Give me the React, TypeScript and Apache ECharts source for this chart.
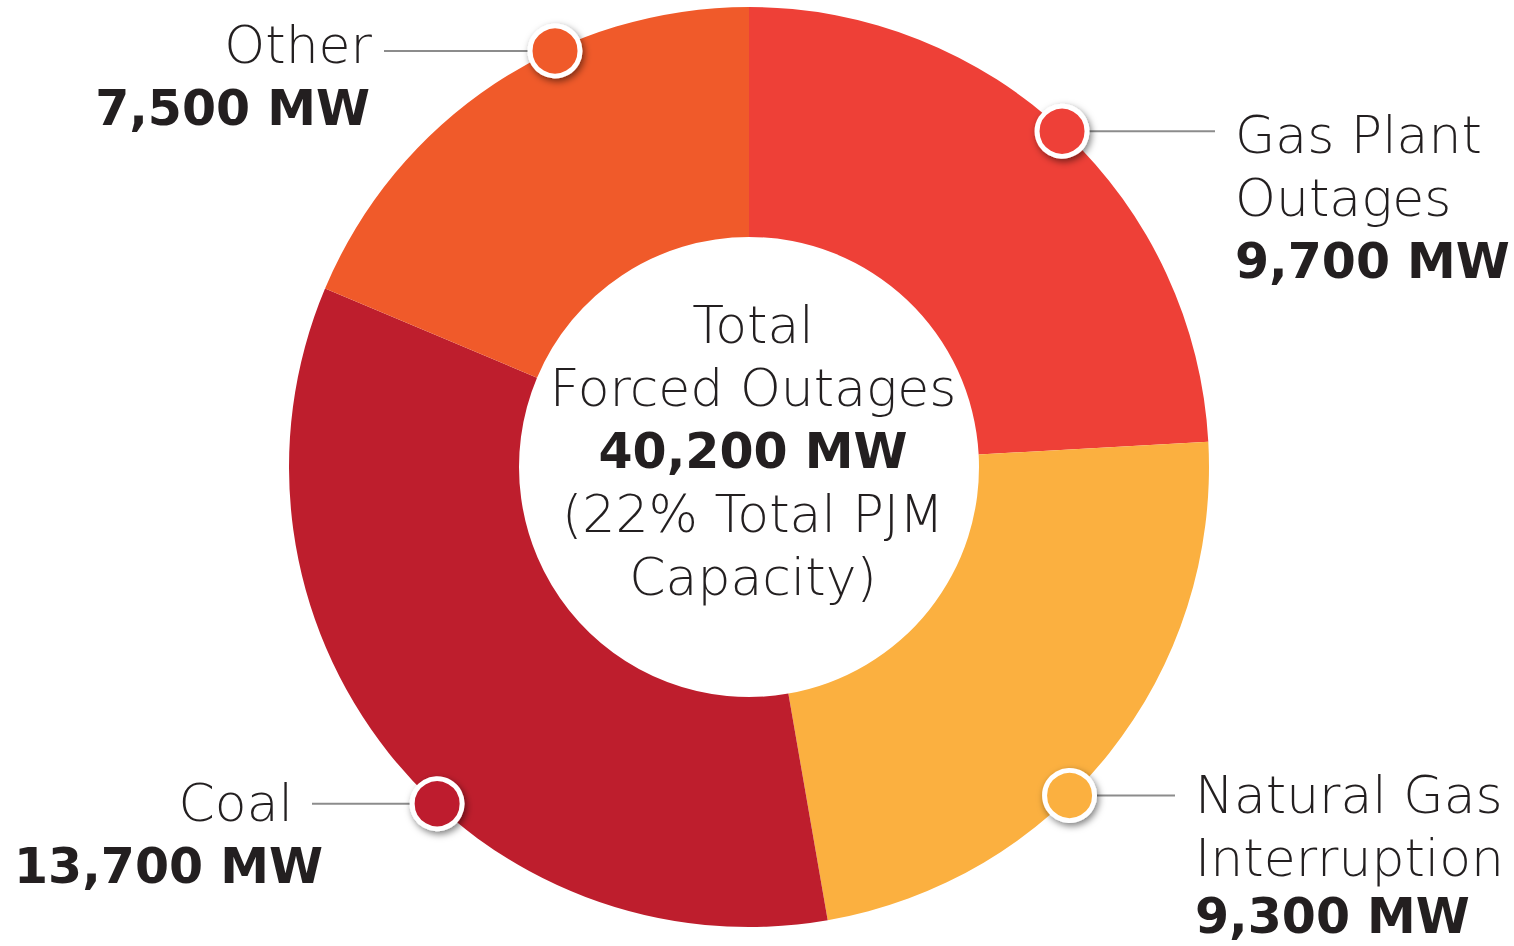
import React, { useEffect, useRef } from "react";
import * as echarts from "echarts";

const categories = ["Gas Plant Outages", "Natural Gas Interruption", "Coal", "Other"];
const labelLines = [["Gas Plant", "Outages"], ["Natural Gas", "Interruption"], ["Coal"], ["Other"]];
const valuesMW = [9700, 9300, 13700, 7500];
const colors = ["#EE4037", "#FBB040", "#BE1E2D", "#F05A2A"];
const centerLines = ["Total", "Forced Outages"];
const totalMW = 40200;
const centerTail = ["(22% Total PJM", "Capacity)"];
// marker angle (degrees, clockwise from 12 o'clock) where each callout touches the ring
const markerAngles = [43, 135.7, 222.8, 335];

const LIGHT = "'DejaVu Sans', sans-serif";
const BOLD = "'DejaVu Sans', sans-serif";
const INK = "#231F20";

const fmt = (v: number) => v.toLocaleString("en-US") + " MW";

export default function App() {
  const ref = useRef<HTMLDivElement>(null);
  useEffect(() => {
    if (!ref.current) return;
    const chart = echarts.init(ref.current, undefined, { renderer: "svg" });
    const cx = 749, cy = 467, rOut = 460, rIn = 230;
    const lh = 63;
    const graphics: any[] = [];
    const txt = (s: string, x: number, y: number, bold: boolean, align: string) => ({
      type: "text",
      x, y, z: 10,
      style: {
        text: s,
        font: bold ? `bold 49px ${BOLD}` : `200 52px ${LIGHT}`,
        fill: INK,
        align,
        verticalAlign: "middle",
      },
    });
    // center
    centerLines.forEach((s, i) => graphics.push(txt(s, 753, 325 + i * lh, false, "center")));
    graphics.push(txt(fmt(totalMW), 753, 325 + 2 * lh, true, "center"));
    centerTail.forEach((s, i) => graphics.push(txt(s, 753, 325 + (3 + i) * lh, false, "center")));

    // callouts: [labelX, lineEndX, align, firstLineY]
    const callout: [number, number, string, number][] = [
      [1235, 1215, "left", 135],
      [1195, 1175, "left", 795],
      [293, 312, "right", 803],
      [372, 384, "right", 45],
    ];
    categories.forEach((_, i) => {
      const a = (markerAngles[i] * Math.PI) / 180;
      const mx = cx + (rOut - 1) * Math.sin(a);
      const my = cy - (rOut - 1) * Math.cos(a);
      const [lx, ex, align, y0] = callout[i];
      graphics.push({
        type: "line", z: 5,
        shape: { x1: mx, y1: my, x2: ex, y2: my },
        style: { stroke: "#8c8c8c", lineWidth: 2 },
      });
      graphics.push({
        type: "circle", z: 6,
        shape: { cx: mx, cy: my, r: 25 },
        style: {
          fill: colors[i], stroke: "#ffffff", lineWidth: 5,
          shadowBlur: 7, shadowOffsetX: 2, shadowOffsetY: 3, shadowColor: "rgba(0,0,0,0.5)",
        },
      });
      const lines = labelLines[i];
      lines.forEach((s, j) => graphics.push(txt(s, lx, y0 + j * lh, false, align)));
      let valX = align === "right" ? lx - 2 : lx;
      let valAlign = align;
      if (i === 2) { valX = 14; valAlign = "left"; }
      const valY = y0 + lines.length * lh - (i === 1 ? 5 : 0);
      graphics.push(txt(fmt(valuesMW[i]), valX, valY, true, valAlign));
    });

    chart.setOption({
      animation: false,
      backgroundColor: "#ffffff",
      series: [
        {
          type: "pie",
          center: [cx, cy],
          radius: [rIn, rOut],
          startAngle: 90,
          clockwise: true,
          silent: true,
          label: { show: false },
          labelLine: { show: false },
          itemStyle: { borderWidth: 0 },
          data: categories.map((c, i) => ({ name: c, value: valuesMW[i], itemStyle: { color: colors[i] } })),
        },
      ],
      graphic: graphics,
    });
    return () => chart.dispose();
  }, []);
  return <div ref={ref} style={{ position: "fixed", left: 0, top: 0, width: 1514, height: 946 }} />;
}
